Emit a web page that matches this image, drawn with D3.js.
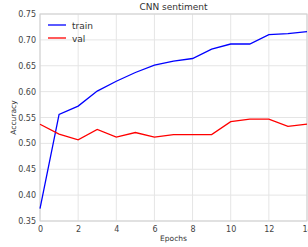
<!DOCTYPE html>
<html>
<head>
<meta charset="utf-8">
<script src="https://cdn.jsdelivr.net/npm/d3@7"></script>
<style>
  body { margin: 0; background: #fff; }
  svg { font-family: "DejaVu Sans", sans-serif; }
</style>
</head>
<body>
<div id="chart"></div>
<script>
// Data
const epochs = [0, 1, 2, 3, 4, 5, 6, 7, 8, 9, 10, 11, 12, 13, 14];
const trainAcc = [0.374, 0.556, 0.572, 0.601, 0.620, 0.637, 0.651, 0.659, 0.664, 0.682, 0.692, 0.692, 0.710, 0.712, 0.716];
const valAcc = [0.537, 0.518, 0.507, 0.527, 0.512, 0.521, 0.512, 0.517, 0.517, 0.517, 0.542, 0.547, 0.547, 0.533, 0.537];
const xTicks = [0, 2, 4, 6, 8, 10, 12, 14];
const yTicks = [0.35, 0.40, 0.45, 0.50, 0.55, 0.60, 0.65, 0.70, 0.75];

const series = [
    { name: "train", values: trainAcc, color: "#0000ff" },
    { name: "val", values: valAcc, color: "#ff0000" }
];

const W = 308, H = 247;
const margin = { top: 14, right: 1, bottom: 26, left: 40 };
const width = W - margin.left - margin.right;
const height = H - margin.top - margin.bottom;

const svg = d3.select("#chart").append("svg")
    .attr("width", W)
    .attr("height", H);

const g = svg.append("g")
    .attr("transform", `translate(${margin.left},${margin.top})`);

const x = d3.scaleLinear().domain([0, 14]).range([0, width]);
const y = d3.scaleLinear().domain([0.35, 0.75]).range([height, 0]);

// grid
g.append("g").selectAll("line").data(xTicks).join("line")
    .attr("x1", d => x(d)).attr("x2", d => x(d))
    .attr("y1", 0).attr("y2", height)
    .attr("stroke", "#e5e5e5").attr("stroke-width", 1);
g.append("g").selectAll("line").data(yTicks).join("line")
    .attr("x1", 0).attr("x2", width)
    .attr("y1", d => y(d)).attr("y2", d => y(d))
    .attr("stroke", "#e5e5e5").attr("stroke-width", 1);

// frame
g.append("rect")
    .attr("width", width).attr("height", height)
    .attr("fill", "none").attr("stroke", "#d0d0d0");

// axes
const xAxis = g.append("g")
    .attr("transform", `translate(0,${height})`)
    .call(d3.axisBottom(x).tickValues(xTicks).tickSize(0).tickPadding(5).tickFormat(d3.format("d")));
const yAxis = g.append("g")
    .call(d3.axisLeft(y).tickValues(yTicks).tickSize(0).tickPadding(4).tickFormat(d3.format(".2f")));
[xAxis, yAxis].forEach(a => {
    a.select(".domain").remove();
    a.selectAll("text").attr("fill", "#444").style("font-size", "8px").style("font-family", "DejaVu Sans");
});

// lines
const line = d3.line()
    .x((d, i) => x(epochs[i]))
    .y(d => y(d));

g.selectAll(".series").data(series).join("path")
    .attr("class", "series")
    .attr("fill", "none")
    .attr("stroke", d => d.color)
    .attr("stroke-width", 1.3)
    .attr("d", d => line(d.values));

// legend
const legend = g.append("g").attr("transform", "translate(8,11)");
series.forEach((s, i) => {
    const row = legend.append("g").attr("transform", `translate(0,${i * 13})`);
    row.append("line").attr("x1", 0).attr("x2", 18).attr("y1", 0).attr("y2", 0)
        .attr("stroke", s.color).attr("stroke-width", 1.3);
    row.append("text").attr("x", 24).attr("y", 3.5)
        .style("font-size", "9px").attr("fill", "#333").text(s.name);
});

// title and labels
svg.append("text")
    .attr("x", margin.left + width / 2).attr("y", 10)
    .attr("text-anchor", "middle")
    .style("font-size", "9px").attr("fill", "#333")
    .text("CNN sentiment");

svg.append("text")
    .attr("x", margin.left + width / 2).attr("y", 241)
    .attr("text-anchor", "middle")
    .style("font-size", "7.5px").attr("fill", "#333")
    .text("Epochs");

svg.append("text")
    .attr("transform", `translate(16,${margin.top + height / 2}) rotate(-90)`)
    .attr("text-anchor", "middle")
    .style("font-size", "7.5px").attr("fill", "#333")
    .text("Accuracy");
</script>
</body>
</html>
